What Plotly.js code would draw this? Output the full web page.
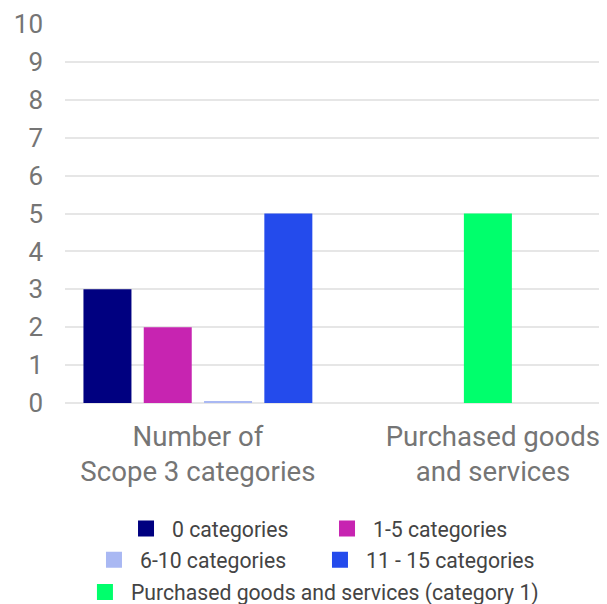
<!DOCTYPE html>
<html>
<head>
<meta charset="utf-8">
<script src="https://cdn.plot.ly/plotly-3.0.1.min.js"></script>
<style>
  html, body { margin: 0; padding: 0; background: #fff; font-family: Roboto, sans-serif; }
  #chart { width: 607px; height: 604px; }
</style>
</head>
<body>
<div id="chart"></div>
<script>
// Categories (x axis)
const categories = ["Number of<br>Scope 3 categories", "Purchased goods<br>and services"];

// Series names
const seriesNames = ["0 categories", "1-5 categories", "6-10 categories", "11 - 15 categories",
                     "Purchased goods and services (category 1)"];

// Series values (one per category; null = no bar)
const zeroCats     = [3, null];
const oneToFive    = [2, null];
const sixToTen     = [0.05, null];
const elevenTo15   = [5, null];
const purchased    = [null, 5];

const yTicks = [0, 1, 2, 3, 4, 5, 6, 7, 8, 9, 10];

const colors = ["#000080", "#c724b1", "#a9b8f3", "#244bec", "#00ff6c"];

function draw() {
  const groupSeries = [zeroCats, oneToFive, sixToTen, elevenTo15];
  const legendFor = ["legend", "legend", "legend2", "legend2"];

  const traces = groupSeries.map((vals, i) => ({
    type: "bar",
    x: categories,
    y: vals,
    name: seriesNames[i],
    marker: { color: colors[i] },
    legend: legendFor[i],
    hoverinfo: "skip"
  }));

  traces.push({
    type: "bar",
    x: categories,
    y: purchased,
    name: seriesNames[4],
    marker: { color: colors[4] },
    xaxis: "x2",
    width: 0.1627,
    offset: -0.0983,
    legend: "legend3",
    hoverinfo: "skip"
  });

  const xRange = [-0.4505, 1.3597];
  const legendFont = { family: "Roboto, sans-serif", size: 21.2, color: "#444444" };
  const legendBase = {
    orientation: "h", xanchor: "left", yanchor: "middle",
    font: legendFont, traceorder: "normal", itemclick: false, itemdoubleclick: false,
    bgcolor: "rgba(0,0,0,0)", entrywidthmode: "pixels"
  };

  const layout = {
    width: 607,
    height: 604,
    margin: { l: 65, r: 8, t: 24, b: 201, autoexpand: false },
    paper_bgcolor: "#ffffff",
    plot_bgcolor: "#ffffff",
    font: { family: "Roboto, sans-serif", color: "#757575" },
    barmode: "group",
    bargap: 0.1824,
    bargroupgap: 0.204,
    xaxis: {
      type: "category",
      categoryarray: categories,
      range: xRange,
      showgrid: false,
      zeroline: false,
      showline: false,
      ticks: "",
      ticklabelstandoff: 14,
      tickfont: { family: "Roboto, sans-serif", size: 27.6, color: "#757575" }
    },
    xaxis2: {
      type: "category",
      categoryarray: categories,
      overlaying: "x",
      range: xRange,
      visible: false
    },
    yaxis: {
      range: [0, 10],
      tickvals: yTicks,
      ticktext: yTicks.map(String),
      showgrid: true,
      gridcolor: "#e6e6e6",
      gridwidth: 2,
      zeroline: true,
      zerolinecolor: "#e6e6e6",
      zerolinewidth: 2,
      showline: false,
      ticks: "",
      ticklabelstandoff: 21,
      tickfont: { family: "Roboto, sans-serif", size: 26, color: "#757575" }
    },
    showlegend: true,
    legend:  Object.assign({}, legendBase, { x: 0.1255, y: -0.332, entrywidth: 156 }),
    legend2: Object.assign({}, legendBase, { x: 0.0655, y: -0.414, entrywidth: 181 }),
    legend3: Object.assign({}, legendBase, { x: 0.0486, y: -0.499 })
  };

  Plotly.newPlot("chart", traces, layout, { staticPlot: true, displayModeBar: false }).then(() => {
    document.querySelectorAll(".legendpoints path").forEach(p => {
      p.setAttribute("d", "M2,8H-14V-8H2Z");
    });
  });
}

const fontLoads = [
  document.fonts.load("21.2px Roboto"),
  document.fonts.load("26px Roboto"),
  document.fonts.load("27.6px Roboto")
];
Promise.all(fontLoads).then(draw, draw);
</script>
</body>
</html>
